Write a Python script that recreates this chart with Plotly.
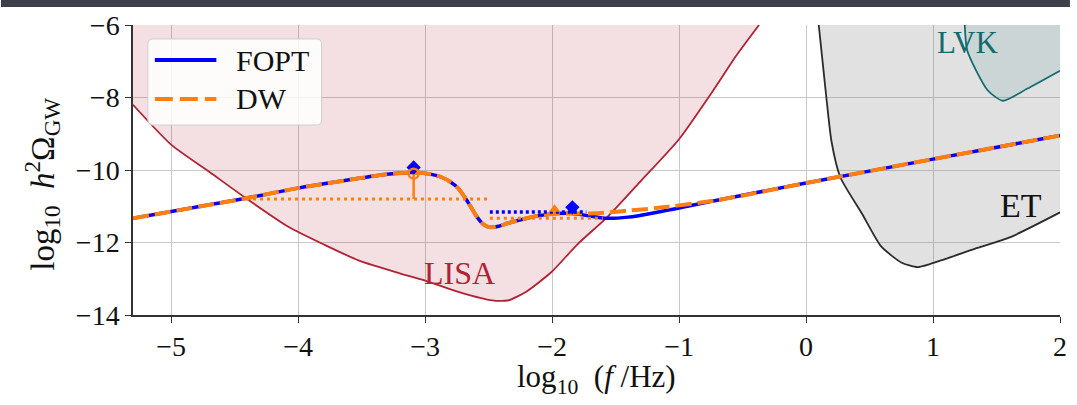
import plotly.graph_objects as go

# ---- detector sensitivity curves (log10 f, log10 h^2 Omega) ----
lisa_x = [-5.3, -5.0, -4.7, -4.41, -4.07, -3.8, -3.52, -3.2, -3.0, -2.75, -2.5, -2.35,
          -2.2, -2.0, -1.8, -1.565, -1.3, -1.0, -0.73, -0.55, -0.37]
lisa_y = [-8.2, -9.3, -10.05, -10.78, -11.58, -12.05, -12.5, -12.85, -13.05, -13.35, -13.58, -13.6,
          -13.35, -12.8, -12.05, -11.3, -10.3, -9.15, -7.8, -6.85, -6.0]

et_x = [0.10, 0.16, 0.20, 0.27, 0.44, 0.59, 0.75, 0.88, 1.1, 1.35, 1.61, 2.0]
et_y = [-6.0, -8.0, -9.2, -10.2, -11.2, -12.1, -12.55, -12.68, -12.45, -12.15, -11.85, -11.17]

lvk_x = [1.25, 1.27, 1.43, 1.55, 1.74, 2.0]
lvk_y = [-6.0, -6.71, -7.8, -8.09, -7.76, -7.26]

# ---- signal spectra ----
fopt_x = [-5.3, -4.41, -4.0, -3.52, -3.3, -3.09, -2.95, -2.87, -2.80, -2.74, -2.66, -2.59,
          -2.54, -2.49, -2.42, -2.35, -2.2, -2.12, -1.96, -1.84, -1.70, -1.59, -1.4, -1.18,
          -0.71, 0.0, 1.0, 2.0]
fopt_y = [-11.33, -10.78, -10.5, -10.23, -10.12, -10.07, -10.12, -10.2, -10.33, -10.5, -10.9, -11.3,
          -11.5, -11.58, -11.55, -11.47, -11.33, -11.27, -11.2, -11.2, -11.27, -11.33, -11.3, -11.17,
          -10.84, -10.36, -9.7, -9.05]

dw_x = [-5.3, -4.41, -4.0, -3.52, -3.3, -3.09, -2.95, -2.87, -2.80, -2.74, -2.66, -2.59,
        -2.54, -2.49, -2.42, -2.35, -2.2, -2.12, -1.96, -1.84, -1.70, -1.59, -1.4, -1.18,
        -0.71, 0.0, 1.0, 2.0]
dw_y = [-11.33, -10.78, -10.5, -10.23, -10.12, -10.07, -10.12, -10.2, -10.33, -10.5, -10.9, -11.3,
        -11.5, -11.58, -11.55, -11.47, -11.33, -11.27, -11.2, -11.2, -11.2, -11.18, -11.12, -11.05,
        -10.84, -10.36, -9.7, -9.05]

# peak markers and widths
peak1_x = -3.09
peak1_fopt_y = -9.93
peak1_dw_y = -10.1
width1_y = -10.8
width1_x = [-4.41, -2.49]

peak2_fopt = (-1.84, -11.03)
peak2_dw = (-1.98, -11.08)
width2_fopt_y = -11.16
width2_fopt_x = [-2.49, -1.73]
width2_dw_y = -11.33
width2_dw_x = [-2.49, -1.6]

x_ticks = [-5, -4, -3, -2, -1, 0, 1, 2]
y_ticks = [-14, -12, -10, -8, -6]

SERIF = "Liberation Serif"
BLUE = "#0000ff"
ORANGE = "#ff7f0e"
LISA_RED = "#b22234"
LVK_TEAL = "#136b70"
INK = "#111111"

fig = go.Figure()

# filled sensitivity regions
fig.add_trace(go.Scatter(x=lisa_x + [lisa_x[0]], y=lisa_y + [-6.0], fill="toself",
                         fillcolor="rgba(178,34,52,0.14)", line=dict(width=0),
                         mode="lines", hoverinfo="skip"))
fig.add_trace(go.Scatter(x=et_x + [2.0], y=et_y + [-6.0], fill="toself",
                         fillcolor="rgba(128,128,128,0.24)", line=dict(width=0),
                         mode="lines", hoverinfo="skip"))
fig.add_trace(go.Scatter(x=lvk_x + [2.0], y=lvk_y + [-6.0], fill="toself",
                         fillcolor="rgba(20,110,110,0.10)", line=dict(width=0),
                         mode="lines", hoverinfo="skip"))

# sensitivity curve outlines
fig.add_trace(go.Scatter(x=lisa_x, y=lisa_y, mode="lines",
                         line=dict(color=LISA_RED, width=1.8, shape="spline", smoothing=0.6)))
fig.add_trace(go.Scatter(x=et_x, y=et_y, mode="lines",
                         line=dict(color="#2b2b2b", width=1.8, shape="spline", smoothing=0.6)))
fig.add_trace(go.Scatter(x=lvk_x, y=lvk_y, mode="lines",
                         line=dict(color=LVK_TEAL, width=1.8, shape="spline", smoothing=0.6)))

# spectra
fig.add_trace(go.Scatter(x=fopt_x, y=fopt_y, mode="lines", name="FOPT",
                         line=dict(color=BLUE, width=3.5, shape="spline", smoothing=0.8)))
fig.add_trace(go.Scatter(x=dw_x, y=dw_y, mode="lines", name="DW",
                         line=dict(color=ORANGE, width=4, dash="16px,6px",
                                   shape="spline", smoothing=0.8)))

# peak width indicators
fig.add_trace(go.Scatter(x=width1_x, y=[width1_y, width1_y], mode="lines",
                         line=dict(color=ORANGE, width=3, dash="3px,4px")))
fig.add_trace(go.Scatter(x=[peak1_x, peak1_x], y=[peak1_dw_y, width1_y], mode="lines",
                         line=dict(color=ORANGE, width=2.5)))
fig.add_trace(go.Scatter(x=width2_fopt_x, y=[width2_fopt_y, width2_fopt_y], mode="lines",
                         line=dict(color=BLUE, width=3.5, dash="3px,3px")))
fig.add_trace(go.Scatter(x=width2_dw_x, y=[width2_dw_y, width2_dw_y], mode="lines",
                         line=dict(color=ORANGE, width=3, dash="3px,4px")))

# peak markers
fig.add_trace(go.Scatter(x=[peak1_x, peak2_fopt[0]], y=[peak1_fopt_y, peak2_fopt[1]],
                         mode="markers",
                         marker=dict(symbol="diamond", size=11, color=BLUE)))
fig.add_trace(go.Scatter(x=[peak1_x], y=[peak1_dw_y], mode="markers",
                         marker=dict(symbol="circle-open", size=10, color=ORANGE,
                                     line=dict(width=2.5, color=ORANGE))))
fig.add_trace(go.Scatter(x=[peak2_dw[0]], y=[peak2_dw[1]], mode="markers",
                         marker=dict(symbol="triangle-up", size=10, color=ORANGE)))

# detector labels
fig.add_annotation(x=-2.73, y=-12.84, text="LISA", showarrow=False,
                   xanchor="center", yanchor="middle",
                   font=dict(family=SERIF, size=32, color=LISA_RED))
fig.add_annotation(x=1.69, y=-10.97, text="ET", showarrow=False,
                   xanchor="center", yanchor="middle",
                   font=dict(family=SERIF, size=34, color=INK))
fig.add_annotation(x=1.27, y=-6.49, text="LVK", showarrow=False,
                   xanchor="center", yanchor="middle",
                   font=dict(family=SERIF, size=31, color=LVK_TEAL))

# pixel -> paper helpers for the plot area
PLOT_L, PLOT_W, PLOT_B, PLOT_H = 133, 934, 315, 290


def px(v):
    return (v - PLOT_L) / PLOT_W


def py(v):
    return (PLOT_B - v) / PLOT_H


# axis titles
fig.add_annotation(xref="paper", yref="paper", x=px(600), y=py(379),
                   xanchor="center", yanchor="middle",
                   text="log<sub>10</sub>  (<i>f</i> /Hz)", showarrow=False,
                   font=dict(family=SERIF, size=31, color=INK))
fig.add_annotation(xref="paper", yref="paper", x=px(41), y=py(184), textangle=-90,
                   xanchor="center", yanchor="middle",
                   text="log<sub>10</sub>  <i>h</i><sup>2</sup>Ω<sub>GW</sub>", showarrow=False,
                   font=dict(family=SERIF, size=33, color=INK))

# legend box
bx0, bx1, by0, by1 = px(148), px(323), py(125), py(39)
rx, ry = 5 / PLOT_W, 5 / PLOT_H
box_path = (f"M{bx0+rx},{by0} L{bx1-rx},{by0} Q{bx1},{by0} {bx1},{by0+ry} "
            f"L{bx1},{by1-ry} Q{bx1},{by1} {bx1-rx},{by1} L{bx0+rx},{by1} "
            f"Q{bx0},{by1} {bx0},{by1-ry} L{bx0},{by0+ry} Q{bx0},{by0} {bx0+rx},{by0} Z")
fig.add_shape(type="path", path=box_path, xref="paper", yref="paper",
              fillcolor="rgba(255,255,255,0.85)", line=dict(color="#d0d0d0", width=1))
fig.add_shape(type="line", xref="paper", yref="paper", x0=px(155), x1=px(217),
              y0=py(60), y1=py(60), line=dict(color=BLUE, width=4))
fig.add_shape(type="line", xref="paper", yref="paper", x0=px(155), x1=px(217),
              y0=py(99), y1=py(99), line=dict(color=ORANGE, width=4, dash="18px,7px"))
fig.add_annotation(xref="paper", yref="paper", x=px(235), y=py(60), text="FOPT",
                   xanchor="left", yanchor="middle", showarrow=False,
                   font=dict(family=SERIF, size=30, color=INK))
fig.add_annotation(xref="paper", yref="paper", x=px(235), y=py(99), text="DW",
                   xanchor="left", yanchor="middle", showarrow=False,
                   font=dict(family=SERIF, size=30, color=INK))

# dark strip along the top edge of the page
fig.add_shape(type="rect", xref="paper", yref="paper", x0=px(0), x1=px(1077),
              y0=py(7), y1=py(-2), fillcolor="#3d4049", line=dict(width=0), layer="above")

axis_common = dict(showgrid=True, gridcolor="#c8c8c8", gridwidth=1, zeroline=False,
                   ticks="outside", ticklen=6, tickcolor="#333333", tickwidth=1.3,
                   showline=True, linecolor="#333333", linewidth=1.5,
                   tickfont=dict(family=SERIF, size=28, color=INK))

fig.update_xaxes(range=[-5.3, 2.0], tickvals=x_ticks, **axis_common)
fig.update_yaxes(range=[-14, -6], tickvals=y_ticks, **axis_common)

fig.update_layout(width=1077, height=405, showlegend=False,
                  margin=dict(l=133, r=10, t=25, b=90),
                  paper_bgcolor="white", plot_bgcolor="white")

fig.write_html("out.html")
